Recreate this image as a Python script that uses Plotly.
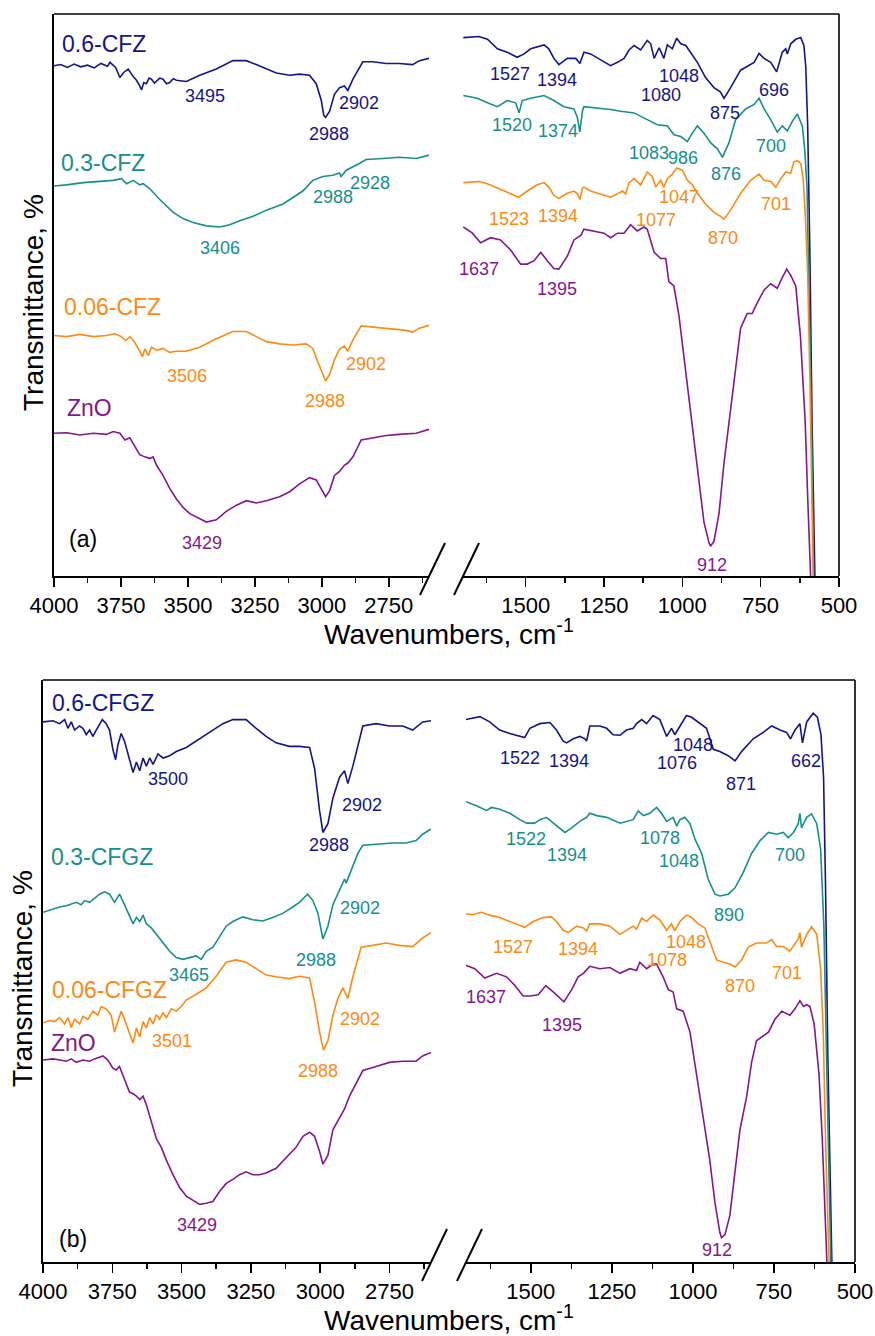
import plotly.graph_objects as go

# ---------------- DATA (wavenumber cm-1, transmittance % offset) ----------------
# Panel (a)
a_cfz06_left = [(4000, 90.8), (3975, 91.0), (3950, 90.5), (3925, 91.1), (3900, 90.6), (3875, 90.9), (3850, 90.4), (3825, 91.2), (3800, 90.7), (3791, 91.4), (3770, 90.5), (3754, 88.7), (3740, 89.6), (3723, 90.2), (3705, 88.9), (3692, 88.2), (3680, 87.2), (3673, 86.5), (3665, 87.8), (3655, 87.6), (3645, 88.6), (3636, 88.4), (3625, 87.7), (3617, 88.0), (3605, 88.6), (3593, 88.4), (3580, 87.6), (3568, 87.8), (3555, 88.5), (3543, 88.2), (3506, 88.0), (3456, 89.1), (3394, 90.2), (3332, 91.7), (3282, 91.7), (3245, 91.0), (3207, 90.2), (3170, 89.5), (3120, 89.1), (3083, 89.3), (3046, 89.1), (3021, 87.6), (3002, 84.6), (2993, 82.0), (2986, 81.6), (2978, 82.2), (2971, 82.7), (2953, 85.7), (2934, 86.9), (2916, 87.2), (2903, 86.4), (2884, 88.4), (2847, 91.5), (2810, 91.5), (2760, 91.2), (2711, 91.2), (2661, 91.0), (2636, 91.7), (2600, 92.1)]
a_cfz06_right = [(1699, 95.8), (1649, 96.0), (1622, 95.5), (1590, 93.8), (1559, 93.2), (1527, 92.3), (1505, 92.9), (1484, 93.8), (1441, 94.5), (1426, 93.8), (1410, 92.1), (1394, 91.0), (1367, 92.1), (1340, 92.1), (1327, 91.2), (1314, 93.2), (1293, 92.9), (1255, 91.7), (1229, 90.8), (1207, 91.4), (1186, 92.1), (1170, 93.6), (1154, 94.4), (1133, 93.6), (1112, 95.3), (1101, 94.7), (1090, 92.1), (1074, 94.0), (1059, 92.1), (1048, 94.5), (1032, 93.8), (1018, 95.7), (1005, 94.7), (989, 94.4), (973, 93.0), (952, 91.4), (926, 88.7), (899, 86.9), (878, 86.1), (867, 85.0), (846, 86.9), (814, 90.0), (771, 91.4), (755, 93.0), (739, 92.1), (718, 91.4), (699, 89.7), (681, 93.2), (670, 93.8), (665, 92.9), (654, 94.7), (638, 95.5), (622, 95.8), (612, 94.4), (606, 90.6), (600, 80.1), (593, 57.6), (586, 27.6), (577, 0), (573, -4)]

a_cfz03_left = [(4000, 69.4), (3953, 69.6), (3891, 70.0), (3829, 70.2), (3779, 70.4), (3748, 70.7), (3729, 69.8), (3704, 70.4), (3680, 69.6), (3667, 69.8), (3642, 68.9), (3605, 67.0), (3580, 65.9), (3555, 64.7), (3518, 63.6), (3481, 62.9), (3431, 62.3), (3381, 62.1), (3344, 62.5), (3307, 63.2), (3257, 64.0), (3207, 65.1), (3145, 66.2), (3108, 67.4), (3071, 68.5), (3034, 70.4), (2996, 71.1), (2959, 71.3), (2934, 71.7), (2928, 71.1), (2909, 72.2), (2860, 73.4), (2835, 74.1), (2773, 74.3), (2711, 74.5), (2648, 74.3), (2600, 74.9)]
a_cfz03_right = [(1699, 85.5), (1654, 85.0), (1622, 84.2), (1590, 83.5), (1559, 84.6), (1532, 84.2), (1521, 82.4), (1511, 84.6), (1484, 85.0), (1441, 85.5), (1410, 84.6), (1378, 83.5), (1346, 83.1), (1335, 81.6), (1327, 79.0), (1319, 82.7), (1314, 83.5), (1271, 83.3), (1229, 83.0), (1197, 82.7), (1154, 82.4), (1112, 81.2), (1080, 80.3), (1048, 80.1), (1027, 78.5), (1005, 78.2), (984, 77.3), (968, 78.8), (952, 80.1), (931, 78.8), (910, 77.1), (888, 76.0), (872, 74.5), (851, 77.1), (830, 81.2), (798, 83.1), (771, 83.9), (755, 85.0), (739, 83.1), (718, 81.2), (697, 79.0), (681, 80.1), (665, 79.2), (649, 80.9), (633, 82.2), (617, 80.1), (609, 75.6), (602, 68.9), (595, 50.1), (588, 27.6), (581, 0), (577, -4)]

a_cfz006_left = [(4000, 42.8), (3953, 42.6), (3903, 43.0), (3853, 42.6), (3804, 42.8), (3773, 43.1), (3748, 42.6), (3732, 41.9), (3717, 42.6), (3698, 41.5), (3680, 40.0), (3670, 39.0), (3661, 40.4), (3648, 39.2), (3636, 40.7), (3617, 40.2), (3593, 40.5), (3568, 39.8), (3543, 40.0), (3506, 40.0), (3456, 40.7), (3394, 42.2), (3332, 43.5), (3282, 43.5), (3245, 42.6), (3207, 41.7), (3158, 41.3), (3108, 41.1), (3058, 41.3), (3034, 40.5), (3015, 38.1), (2996, 35.9), (2986, 34.7), (2971, 35.9), (2953, 38.5), (2934, 40.4), (2916, 40.9), (2903, 40.0), (2884, 42.0), (2853, 44.5), (2810, 44.3), (2735, 44.0), (2686, 43.7), (2661, 43.4), (2636, 44.1), (2600, 44.6)]
a_cfz006_right = [(1699, 70.0), (1649, 70.2), (1622, 69.8), (1590, 69.0), (1559, 68.3), (1522, 67.4), (1495, 68.5), (1463, 69.6), (1441, 70.0), (1426, 69.2), (1410, 67.7), (1394, 67.2), (1367, 68.1), (1346, 68.5), (1335, 68.0), (1327, 67.0), (1319, 69.0), (1314, 69.2), (1293, 68.5), (1261, 68.0), (1229, 67.4), (1207, 68.0), (1191, 68.5), (1181, 68.0), (1170, 70.0), (1154, 70.7), (1133, 69.6), (1112, 71.9), (1096, 71.1), (1085, 69.2), (1069, 70.4), (1059, 69.2), (1048, 70.7), (1032, 71.5), (1018, 72.6), (1000, 72.2), (984, 70.4), (968, 69.6), (952, 68.1), (926, 66.2), (899, 64.7), (878, 64.0), (867, 63.5), (846, 65.1), (814, 68.1), (782, 70.4), (755, 71.5), (739, 70.4), (718, 70.2), (702, 69.2), (686, 70.7), (670, 71.9), (654, 71.7), (644, 73.7), (633, 73.9), (622, 73.4), (614, 70.4), (607, 63.6), (600, 53.9), (593, 35.1), (585, 0), (581, -4)]

a_zno_left = [(4000, 25.4), (3953, 25.5), (3903, 25.1), (3853, 25.4), (3804, 25.2), (3779, 25.7), (3754, 25.4), (3735, 24.2), (3717, 24.6), (3698, 23.1), (3680, 21.6), (3661, 21.2), (3642, 20.9), (3630, 21.2), (3617, 19.7), (3593, 17.9), (3568, 15.6), (3543, 13.7), (3518, 12.2), (3493, 11.1), (3456, 10.2), (3431, 9.6), (3394, 10.0), (3357, 11.5), (3319, 12.6), (3282, 13.4), (3245, 13.0), (3207, 13.4), (3158, 14.1), (3120, 15.0), (3083, 16.4), (3046, 17.5), (3021, 17.1), (3002, 15.6), (2986, 14.1), (2971, 15.2), (2953, 17.9), (2934, 18.6), (2916, 19.7), (2903, 20.1), (2884, 21.2), (2853, 24.2), (2810, 24.6), (2760, 25.0), (2711, 25.2), (2648, 25.4), (2600, 26.1)]
a_zno_right = [(1699, 62.1), (1670, 61.0), (1644, 59.3), (1612, 60.2), (1580, 59.8), (1548, 58.0), (1516, 55.5), (1495, 55.5), (1473, 56.1), (1452, 57.6), (1431, 56.1), (1410, 54.7), (1394, 54.6), (1367, 56.9), (1346, 59.8), (1324, 60.6), (1314, 61.7), (1282, 61.4), (1250, 61.0), (1229, 60.2), (1207, 61.0), (1186, 61.0), (1165, 62.5), (1144, 61.4), (1122, 62.1), (1112, 61.7), (1090, 57.6), (1069, 56.5), (1053, 56.5), (1043, 52.4), (1027, 51.6), (1011, 46.4), (995, 38.9), (979, 31.4), (963, 23.9), (947, 16.4), (931, 9.6), (915, 5.9), (910, 5.3), (899, 6.2), (883, 11.1), (867, 20.1), (851, 27.6), (830, 36.6), (814, 44.1), (793, 46.7), (777, 46.7), (761, 48.6), (739, 50.9), (718, 52.0), (697, 51.2), (681, 53.1), (667, 54.6), (654, 53.5), (638, 51.6), (623, 42.6), (608, 27.6), (599, 12.6), (591, 0), (588, -4)]

# Panel (b)
b_cfgz06_left = [(4000, 92.8), (3964, 93.0), (3940, 92.5), (3922, 93.2), (3910, 91.7), (3898, 92.8), (3886, 91.4), (3868, 92.1), (3856, 91.7), (3844, 90.6), (3832, 91.4), (3820, 90.3), (3808, 91.4), (3796, 92.5), (3786, 93.2), (3772, 92.5), (3760, 91.4), (3748, 88.1), (3738, 86.3), (3730, 88.8), (3718, 90.8), (3706, 89.5), (3688, 86.6), (3675, 84.1), (3663, 85.9), (3651, 84.4), (3639, 86.6), (3627, 85.2), (3615, 86.6), (3603, 85.5), (3585, 87.3), (3567, 86.6), (3543, 87.0), (3519, 87.7), (3483, 88.4), (3435, 89.9), (3387, 91.4), (3351, 92.5), (3315, 93.2), (3267, 93.2), (3231, 91.7), (3195, 90.3), (3159, 89.2), (3111, 88.6), (3075, 88.6), (3038, 88.4), (3020, 84.8), (3002, 77.5), (2990, 73.8), (2972, 75.3), (2954, 79.7), (2930, 83.3), (2912, 84.4), (2900, 82.2), (2882, 85.2), (2846, 92.1), (2798, 92.5), (2750, 92.1), (2702, 92.1), (2666, 91.4), (2630, 92.8), (2600, 93.0)]
b_cfgz06_right = [(1701, 93.2), (1657, 93.7), (1627, 92.8), (1596, 91.4), (1565, 90.8), (1534, 90.3), (1519, 90.1), (1503, 91.7), (1472, 92.5), (1441, 92.7), (1421, 91.4), (1400, 89.5), (1390, 89.2), (1369, 89.9), (1349, 90.3), (1333, 89.9), (1328, 89.5), (1318, 92.1), (1287, 92.1), (1266, 91.7), (1246, 90.6), (1225, 90.5), (1205, 91.4), (1184, 91.7), (1174, 92.5), (1158, 93.2), (1143, 92.5), (1123, 93.9), (1102, 93.2), (1081, 90.3), (1066, 91.7), (1056, 90.6), (1040, 92.1), (1020, 93.9), (1004, 93.6), (978, 92.5), (958, 91.7), (937, 88.1), (917, 87.7), (891, 87.0), (870, 86.1), (850, 87.7), (814, 89.9), (783, 91.0), (757, 92.1), (731, 91.4), (711, 91.0), (699, 89.9), (685, 91.4), (670, 92.5), (662, 89.2), (649, 92.8), (629, 94.3), (616, 93.6), (605, 90.6), (597, 83.3), (591, 65.0), (584, 35.8), (574, 0), (570, -4)]

b_cfgz03_left = [(4000, 60.1), (3964, 60.7), (3940, 61.0), (3916, 61.2), (3898, 61.5), (3880, 61.8), (3862, 61.4), (3850, 62.1), (3832, 61.8), (3814, 62.5), (3796, 63.2), (3778, 63.6), (3760, 63.2), (3742, 61.8), (3724, 63.2), (3706, 61.4), (3688, 59.6), (3675, 58.1), (3663, 59.2), (3651, 58.5), (3639, 59.6), (3627, 58.1), (3609, 57.4), (3591, 56.3), (3567, 54.8), (3543, 53.4), (3519, 52.3), (3495, 52.0), (3471, 52.3), (3447, 52.6), (3429, 52.0), (3411, 53.4), (3387, 54.1), (3363, 55.9), (3339, 57.7), (3315, 58.5), (3279, 59.3), (3243, 58.8), (3207, 58.6), (3171, 59.2), (3135, 59.9), (3099, 61.0), (3075, 61.8), (3045, 63.2), (3026, 62.1), (3008, 59.9), (2990, 55.5), (2972, 57.7), (2954, 61.4), (2930, 63.9), (2912, 65.8), (2906, 65.1), (2888, 67.2), (2864, 70.2), (2846, 71.6), (2798, 71.8), (2738, 72.0), (2690, 72.0), (2654, 72.4), (2630, 73.5), (2600, 74.4)]
b_cfgz03_right = [(1701, 79.1), (1668, 78.4), (1637, 77.6), (1621, 78.1), (1596, 77.8), (1565, 77.1), (1534, 76.0), (1513, 75.4), (1488, 75.4), (1472, 76.0), (1452, 76.4), (1431, 75.4), (1410, 74.4), (1395, 73.8), (1374, 74.6), (1349, 75.7), (1328, 76.4), (1318, 77.1), (1297, 76.7), (1266, 76.4), (1225, 75.4), (1205, 75.7), (1184, 76.0), (1169, 77.5), (1153, 76.7), (1133, 77.1), (1112, 78.1), (1097, 77.1), (1081, 75.7), (1061, 76.4), (1050, 74.9), (1040, 76.0), (1025, 76.4), (1009, 75.3), (994, 72.7), (973, 70.2), (953, 65.8), (932, 63.2), (917, 62.9), (891, 63.2), (870, 64.3), (845, 66.9), (819, 70.2), (793, 72.4), (767, 73.8), (742, 73.5), (721, 73.8), (706, 72.9), (690, 73.8), (675, 75.3), (670, 77.1), (665, 74.6), (649, 76.4), (634, 77.0), (618, 75.3), (606, 70.9), (596, 57.7), (588, 35.8), (577, 0), (573, -4)]

b_cfgz006_left = [(4000, 41.1), (3976, 41.5), (3958, 41.3), (3940, 42.0), (3922, 40.9), (3910, 42.0), (3898, 40.3), (3886, 41.7), (3868, 40.9), (3856, 42.2), (3838, 41.7), (3820, 43.1), (3802, 42.4), (3790, 43.9), (3772, 43.5), (3754, 42.4), (3742, 39.5), (3730, 41.3), (3718, 43.1), (3706, 41.7), (3688, 39.5), (3675, 37.6), (3663, 40.2), (3651, 38.7), (3639, 41.3), (3627, 40.2), (3615, 42.0), (3603, 40.9), (3591, 42.5), (3579, 41.7), (3567, 42.8), (3555, 42.0), (3537, 43.5), (3519, 43.1), (3501, 43.9), (3483, 45.0), (3447, 46.0), (3411, 47.1), (3375, 49.1), (3339, 51.5), (3303, 51.9), (3267, 51.5), (3231, 50.4), (3195, 49.3), (3159, 49.0), (3111, 48.7), (3075, 49.1), (3038, 48.8), (3020, 44.6), (3002, 39.5), (2988, 36.4), (2972, 38.0), (2954, 42.4), (2936, 45.3), (2918, 47.1), (2900, 45.3), (2882, 49.0), (2852, 54.1), (2810, 54.4), (2762, 54.8), (2714, 54.4), (2666, 54.2), (2630, 55.7), (2600, 56.6)]
b_cfgz006_right = [(1701, 59.8), (1678, 59.7), (1652, 60.1), (1627, 59.6), (1596, 59.2), (1565, 58.5), (1534, 57.9), (1519, 57.5), (1493, 58.5), (1462, 59.2), (1436, 59.3), (1421, 58.5), (1400, 57.0), (1385, 56.6), (1359, 57.7), (1338, 57.4), (1328, 56.9), (1318, 58.1), (1287, 58.1), (1256, 57.7), (1225, 56.3), (1205, 57.0), (1184, 57.7), (1174, 57.2), (1158, 59.1), (1143, 58.5), (1123, 59.6), (1102, 58.8), (1081, 57.0), (1066, 58.1), (1056, 56.9), (1040, 58.5), (1020, 59.6), (1004, 59.2), (984, 58.1), (963, 57.4), (948, 55.2), (927, 51.9), (906, 51.5), (886, 51.2), (870, 50.7), (850, 51.9), (829, 54.1), (804, 54.8), (773, 54.8), (757, 55.4), (742, 54.2), (721, 54.2), (701, 53.4), (685, 54.8), (675, 55.5), (670, 56.6), (665, 54.1), (649, 56.3), (634, 57.6), (618, 56.3), (606, 50.4), (598, 39.5), (591, 21.2), (580, 0), (576, -4)]

b_zno_left = [(4000, 34.7), (3964, 34.9), (3940, 34.7), (3916, 34.5), (3898, 34.9), (3880, 34.3), (3856, 34.7), (3832, 34.5), (3814, 34.9), (3796, 35.2), (3784, 35.4), (3766, 34.7), (3748, 33.3), (3736, 33.0), (3724, 33.6), (3706, 31.4), (3688, 29.2), (3675, 28.9), (3663, 28.5), (3651, 27.9), (3639, 28.5), (3627, 27.0), (3609, 24.1), (3591, 21.2), (3573, 19.7), (3555, 17.5), (3531, 15.0), (3507, 12.8), (3483, 11.3), (3459, 10.6), (3435, 9.9), (3411, 10.1), (3387, 10.4), (3363, 12.1), (3339, 13.5), (3315, 14.2), (3291, 15.0), (3267, 15.5), (3243, 15.0), (3219, 15.0), (3195, 15.3), (3159, 16.1), (3123, 17.9), (3087, 19.7), (3062, 21.6), (3038, 22.3), (3020, 21.6), (3002, 19.0), (2990, 16.8), (2972, 18.3), (2954, 22.7), (2930, 24.8), (2912, 26.3), (2894, 28.5), (2870, 30.7), (2846, 32.9), (2798, 33.6), (2750, 34.3), (2702, 34.5), (2654, 34.5), (2630, 35.4), (2600, 36.0)]
b_zno_right = [(1701, 51.0), (1673, 50.4), (1642, 48.8), (1606, 49.6), (1575, 49.0), (1549, 47.5), (1524, 45.7), (1503, 45.7), (1477, 45.9), (1454, 47.5), (1431, 46.4), (1410, 45.3), (1398, 44.7), (1374, 46.8), (1354, 49.0), (1338, 49.6), (1318, 50.8), (1287, 50.4), (1256, 50.6), (1225, 49.6), (1194, 50.4), (1174, 50.1), (1164, 51.5), (1143, 50.4), (1122, 51.2), (1112, 51.2), (1092, 49.0), (1076, 46.8), (1061, 46.4), (1050, 43.5), (1030, 43.1), (1009, 39.5), (989, 32.2), (968, 24.8), (948, 17.5), (932, 10.2), (917, 5.1), (912, 4.2), (901, 4.7), (886, 8.0), (870, 15.3), (855, 22.7), (834, 28.5), (819, 34.3), (804, 38.0), (788, 38.7), (767, 39.5), (747, 41.7), (726, 43.1), (701, 42.4), (685, 43.5), (670, 44.9), (659, 43.9), (649, 44.2), (639, 43.9), (626, 40.9), (611, 32.2), (601, 21.2), (594, 10.2), (587, 0), (584, -4)]

# Series names, colours
series_names_a = ["0.6-CFZ", "0.3-CFZ", "0.06-CFZ", "ZnO"]
series_names_b = ["0.6-CFGZ", "0.3-CFGZ", "0.06-CFGZ", "ZnO"]
COL = {"navy": "#14148c", "teal": "#16908a", "orange": "#ff8a12", "purple": "#86168c"}
series_colors = ["navy", "teal", "orange", "purple"]

# Tick values
left_major = [4000, 3750, 3500, 3250, 3000, 2750]
left_minor = [3875, 3625, 3375, 3125, 2875, 2625]
right_major = [1500, 1250, 1000, 750, 500]
right_minor = [1625, 1375, 1125, 875, 625]

# Peak labels: (text, wavenumber, transmittance, colour, segment, kind)
labels_a = [
    ("0.6-CFZ", 3978, 94.7, "navy", "L", "name"), ("3495", 3437, 85.4, "navy", "L", "num"),
    ("2988", 2974, 78.6, "navy", "L", "num"), ("2902", 2862, 84.2, "navy", "L", "num"),
    ("0.3-CFZ", 3980, 73.4, "teal", "L", "name"), ("2988", 2959, 67.4, "teal", "L", "num"),
    ("2928", 2820, 70.0, "teal", "L", "num"), ("3406", 3381, 58.4, "teal", "L", "num"),
    ("0.06-CFZ", 3971, 47.9, "orange", "L", "name"), ("3506", 3502, 35.6, "orange", "L", "num"),
    ("2988", 2990, 31.1, "orange", "L", "num"), ("2902", 2835, 37.7, "orange", "L", "num"),
    ("ZnO", 3959, 29.9, "purple", "L", "name"), ("3429", 3446, 5.9, "purple", "L", "num"),
    ("1527", 1550, 89.3, "navy", "R", "num"), ("1394", 1401, 88.2, "navy", "R", "num"),
    ("1048", 1011, 88.9, "navy", "R", "num"), ("1080", 1067, 85.5, "navy", "R", "num"),
    ("875", 865, 82.4, "navy", "R", "num"), ("696", 707, 86.5, "navy", "R", "num"),
    ("1520", 1543, 80.3, "teal", "R", "num"), ("1374", 1397, 79.1, "teal", "R", "num"),
    ("1083", 1106, 75.2, "teal", "R", "num"), ("986", 998, 74.3, "teal", "R", "num"),
    ("876", 862, 71.6, "teal", "R", "num"), ("700", 716, 76.5, "teal", "R", "num"),
    ("1523", 1553, 63.6, "orange", "R", "num"), ("1394", 1396, 64.1, "orange", "R", "num"),
    ("1047", 1011, 67.4, "orange", "R", "num"), ("1077", 1085, 63.4, "orange", "R", "num"),
    ("870", 870, 60.1, "orange", "R", "num"), ("701", 702, 66.2, "orange", "R", "num"),
    ("1637", 1649, 54.7, "purple", "R", "num"), ("1395", 1401, 51.1, "purple", "R", "num"),
    ("912", 906, 2.0, "purple", "R", "num"),
]
labels_b = [
    ("0.6-CFGZ", 3974, 96.1, "navy", "L", "name"), ("3500", 3549, 83.0, "navy", "L", "num"),
    ("2988", 2969, 71.6, "navy", "L", "num"), ("2902", 2849, 78.5, "navy", "L", "num"),
    ("0.3-CFGZ", 3978, 69.6, "teal", "L", "name"), ("2902", 2858, 60.8, "teal", "L", "num"),
    ("2988", 3014, 51.9, "teal", "L", "num"), ("3465", 3475, 49.3, "teal", "L", "num"),
    ("0.06-CFGZ", 3974, 46.8, "orange", "L", "name"), ("2902", 2858, 41.7, "orange", "L", "num"),
    ("3501", 3535, 37.9, "orange", "L", "num"), ("2988", 3008, 32.9, "orange", "L", "num"),
    ("ZnO", 3978, 37.6, "purple", "L", "name"), ("3429", 3445, 6.4, "purple", "L", "num"),
    ("1522", 1532, 86.6, "navy", "R", "num"), ("1394", 1382, 86.1, "navy", "R", "num"),
    ("1048", 1001, 88.8, "navy", "R", "num"), ("1076", 1050, 85.8, "navy", "R", "num"),
    ("871", 852, 82.2, "navy", "R", "num"), ("662", 651, 86.1, "navy", "R", "num"),
    ("1522", 1515, 72.6, "teal", "R", "num"), ("1394", 1387, 70.0, "teal", "R", "num"),
    ("1078", 1102, 72.9, "teal", "R", "num"), ("1048", 1042, 68.9, "teal", "R", "num"),
    ("890", 889, 59.7, "teal", "R", "num"), ("700", 701, 70.0, "teal", "R", "num"),
    ("1527", 1555, 54.2, "orange", "R", "num"), ("1394", 1356, 53.7, "orange", "R", "num"),
    ("1048", 1020, 55.0, "orange", "R", "num"), ("1078", 1081, 51.9, "orange", "R", "num"),
    ("870", 855, 47.4, "orange", "R", "num"), ("701", 709, 49.7, "orange", "R", "num"),
    ("1637", 1637, 45.5, "purple", "R", "num"), ("1395", 1403, 40.7, "purple", "R", "num"),
    ("912", 927, 2.0, "purple", "R", "num"),
]

# ---------------- FIGURE ----------------
W, H = 875, 1336
FONT = "Arial, Liberation Sans, sans-serif"

def px(x):
    return x / W

def py(y):
    return 1 - y / H

# panel geometry in pixels
PANELS = {
    "a": dict(l=54, le=429, rs=463, r=839, t=14, b=576, xl="x", xr="x2", y="y"),
    "b": dict(l=43, le=431, rs=466, r=855, t=680, b=1262, xl="x3", xr="x4", y="y2"),
}

fig = go.Figure()

data_a = [(a_cfz06_left, a_cfz06_right), (a_cfz03_left, a_cfz03_right),
          (a_cfz006_left, a_cfz006_right), (a_zno_left, a_zno_right)]
data_b = [(b_cfgz06_left, b_cfgz06_right), (b_cfgz03_left, b_cfgz03_right),
          (b_cfgz006_left, b_cfgz006_right), (b_zno_left, b_zno_right)]

for key, data, names in (("a", data_a, series_names_a), ("b", data_b, series_names_b)):
    P = PANELS[key]
    for (left, right), name, ck in zip(data, names, series_colors):
        for seg, xa in ((left, P["xl"]), (right, P["xr"])):
            fig.add_trace(go.Scatter(
                x=[p[0] for p in seg], y=[p[1] for p in seg], mode="lines",
                line=dict(color=COL[ck], width=1.6), xaxis=xa, yaxis=P["y"],
                name=name, showlegend=False, hoverinfo="skip"))

axis_common = dict(showline=True, linecolor="black", linewidth=1.6, ticks="outside",
                   ticklen=9, tickwidth=1.5, tickcolor="black", showgrid=False,
                   zeroline=False, tickfont=dict(family=FONT, size=22, color="black"),
                   tickmode="array", automargin=False)

layout = dict(width=W, height=H, autosize=False, margin=dict(l=0, r=0, t=0, b=0, pad=0),
              paper_bgcolor="white", plot_bgcolor="white", showlegend=False,
              template="none", font=dict(family=FONT, color="black"))

for key, (xl, xr, ya) in (("a", ("xaxis", "xaxis2", "yaxis")), ("b", ("xaxis3", "xaxis4", "yaxis2"))):
    P = PANELS[key]
    ydom = [py(P["b"]), py(P["t"])]
    layout[xl] = dict(axis_common, domain=[px(P["l"]), px(P["le"])], range=[4000, 2600],
                      anchor=P["y"], tickvals=left_major,
                      ticktext=[str(v) for v in left_major],
                      minor=dict(tickmode="array", tickvals=left_minor, ticks="outside",
                                 ticklen=5, tickwidth=1.5, tickcolor="black", showgrid=False))
    layout[xr] = dict(axis_common, domain=[px(P["rs"]), px(P["r"])], range=[1700, 500],
                      anchor=P["y"], tickvals=right_major,
                      ticktext=[str(v) for v in right_major],
                      minor=dict(tickmode="array", tickvals=right_minor, ticks="outside",
                                 ticklen=5, tickwidth=1.5, tickcolor="black", showgrid=False))
    layout[ya] = dict(domain=ydom, range=[0, 100], anchor=P["xl"], showline=True,
                      linecolor="black", linewidth=1.6, ticks="", showticklabels=False,
                      showgrid=False, zeroline=False, automargin=False)

fig.update_layout(**layout)

# frame lines and axis-break marks
shapes = []
for key in ("a", "b"):
    P = PANELS[key]
    line = dict(color="black", width=1.6)
    shapes.append(dict(type="line", xref="paper", yref="paper", x0=px(P["l"]), x1=px(P["r"]),
                       y0=py(P["t"]), y1=py(P["t"]), line=line))
    shapes.append(dict(type="line", xref="paper", yref="paper", x0=px(P["r"]), x1=px(P["r"]),
                       y0=py(P["t"]), y1=py(P["b"]), line=line))
    for xe in (P["le"], P["rs"]):
        shapes.append(dict(type="line", xref="paper", yref="paper",
                           x0=px(xe - 9), y0=py(P["b"] + 19), x1=px(xe + 16), y1=py(P["b"] - 33),
                           line=dict(color="black", width=2)))
fig.update_layout(shapes=shapes)

annotations = []
for key, labels in (("a", labels_a), ("b", labels_b)):
    P = PANELS[key]
    for text, wn, t, ck, seg, kind in labels:
        name = kind == "name"
        annotations.append(dict(
            text=text, x=wn, y=t, xref=P["xl"] if seg == "L" else P["xr"], yref=P["y"],
            showarrow=False, xanchor="left" if name else "center", yanchor="middle",
            font=dict(family=FONT, size=23 if name else 18, color=COL[ck])))
    # panel letter
    annotations.append(dict(text="(" + key + ")", x=3890, y=6.6 if key == "a" else 4.0,
                            xref=P["xl"], yref=P["y"], showarrow=False, xanchor="center",
                            yanchor="middle", font=dict(family=FONT, size=23, color="black")))
    # axis titles
    annotations.append(dict(text="Wavenumbers, cm<sup>-1</sup>", x=px(449),
                            y=py(P["b"] + 56), xref="paper", yref="paper", showarrow=False,
                            xanchor="center", yanchor="middle",
                            font=dict(family=FONT, size=28, color="black")))
    annotations.append(dict(text="Transmittance, %", x=px(P["l"] - 21),
                            y=py((P["t"] + P["b"]) / 2 + 8), xref="paper", yref="paper",
                            showarrow=False, textangle=-90, xanchor="center", yanchor="middle",
                            font=dict(family=FONT, size=28, color="black")))
fig.update_layout(annotations=annotations)

# remove the browser's default 8px body margin so the figure sits at the page origin
fig.write_html("out.html", config={"displayModeBar": False, "staticPlot": True},
               post_script="document.body.style.margin='0px';")
